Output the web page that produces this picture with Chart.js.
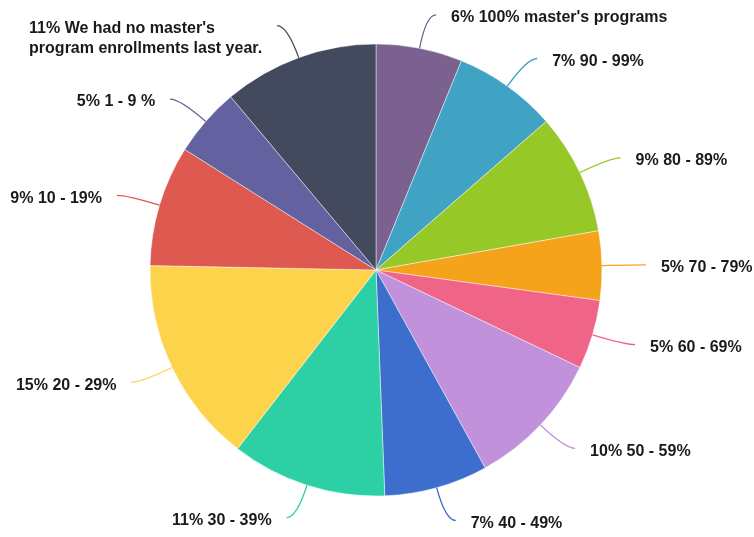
<!DOCTYPE html>
<html>
<head>
<meta charset="utf-8">
<script src="https://cdn.jsdelivr.net/npm/chart.js@4/dist/chart.umd.min.js"></script>
<style>
  html, body { margin: 0; padding: 0; background: #fff; }
  #wrap { width: 754px; height: 537px; }
</style>
</head>
<body>
<div id="wrap"><canvas id="pieChart"></canvas></div>
<script>
// categories and response counts, clockwise from the top
var categories = [
    "100% master's programs",
    '90 - 99%',
    '80 - 89%',
    '70 - 79%',
    '60 - 69%',
    '50 - 59%',
    '40 - 49%',
    '30 - 39%',
    '20 - 29%',
    '10 - 19%',
    '1 - 9 %',
    "We had no master's program enrollments last year."
];
var counts = [5, 6, 7, 4, 4, 8, 6, 9, 12, 7, 4, 9];
var colors = [
    '#7b618f', '#41a3c4', '#96c928', '#f5a31a', '#f06488', '#c191dc',
    '#3e6ecd', '#2dd0a5', '#fcd34b', '#de5a51', '#63619f', '#434a5d'
];

var total = counts.reduce(function (s, v) { return s + v; }, 0);

// draws the "6% label" texts with curved leader lines
var outLabels = {
    id: 'outLabels',
    afterDatasetsDraw: function (chart) {
        var ctx = chart.ctx;
        var meta = chart.getDatasetMeta(0);
        ctx.save();
        ctx.font = 'bold 16px "Liberation Sans", Arial, sans-serif';
        ctx.textBaseline = 'middle';
        meta.data.forEach(function (arc, i) {
            var a = (arc.startAngle + arc.endAngle) / 2;
            var r = arc.outerRadius;
            var cos = Math.cos(a), sin = Math.sin(a);
            var right = cos >= 0;
            var x0 = arc.x + r * cos, y0 = arc.y + r * sin;
            var cx = arc.x + (r + 34) * cos, cy = arc.y + (r + 34) * sin;
            var ex = cx + (right ? 10 : -10), ey = cy;

            ctx.strokeStyle = colors[i];
            ctx.lineWidth = 1.3;
            ctx.beginPath();
            ctx.moveTo(x0, y0);
            ctx.quadraticCurveTo(cx, cy, ex, ey);
            ctx.stroke();

            // word wrap
            var pct = Math.round(counts[i] / total * 100);
            var words = (pct + '% ' + categories[i]).split(' ');
            var lines = [], cur = '';
            words.forEach(function (w) {
                var test = cur ? cur + ' ' + w : w;
                if (cur && ctx.measureText(test).width > 250) {
                    lines.push(cur);
                    cur = w;
                } else {
                    cur = test;
                }
            });
            lines.push(cur);
            var maxW = 0;
            lines.forEach(function (l) { maxW = Math.max(maxW, ctx.measureText(l).width); });
            var tx = right ? ex + 15 : ex - 15 - maxW;

            ctx.fillStyle = '#1a1a1a';
            ctx.textAlign = 'left';
            lines.forEach(function (l, k) {
                ctx.fillText(l, tx, ey + 3 + k * 20);
            });
        });
        ctx.restore();
    }
};

var ctx = document.getElementById('pieChart').getContext('2d');
var pieChart = new Chart(ctx, {
    type: 'pie',
    data: {
        labels: categories,
        datasets: [{
            data: counts,
            backgroundColor: colors,
            borderColor: 'rgba(255,255,255,0.45)',
            borderWidth: 1
        }]
    },
    options: {
        responsive: true,
        maintainAspectRatio: false,
        animation: false,
        radius: 226,
        layout: { padding: { left: 0, right: 2, top: 3, bottom: 0 } },
        events: [],
        plugins: {
            legend: { display: false },
            tooltip: { enabled: false }
        }
    },
    plugins: [outLabels]
});
</script>
</body>
</html>
